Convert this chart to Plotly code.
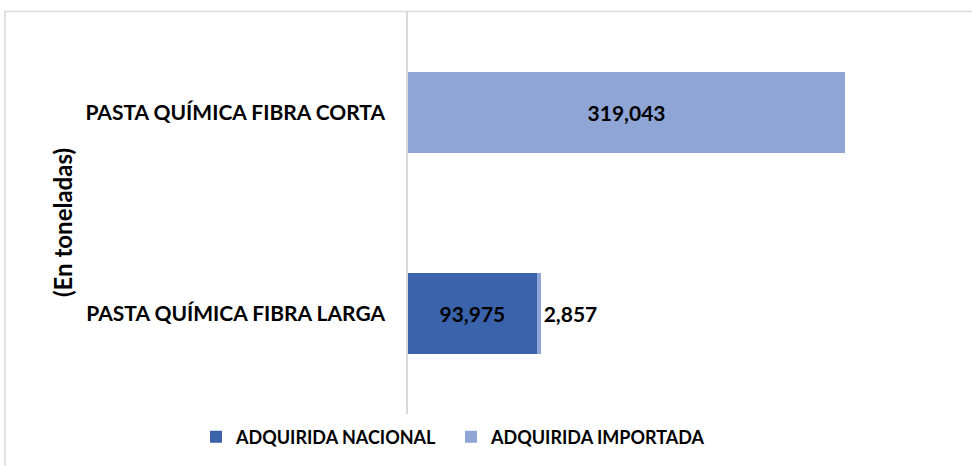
import plotly.graph_objects as go

categories = ["PASTA QUÍMICA FIBRA LARGA", "PASTA QUÍMICA FIBRA CORTA"]
nacional = [93975, 0]
importada = [2857, 319043]
series_names = ["ADQUIRIDA NACIONAL", "ADQUIRIDA IMPORTADA"]
axis_title = "(En toneladas)"

FONT = "Lato, 'Open Sans', sans-serif"
BOLD = dict(color="black", family=FONT, weight="bold")

def labels(vals):
    return [f"{v:,}" if v else "" for v in vals]

fig = go.Figure()
fig.add_trace(go.Bar(
    y=categories, x=nacional, orientation="h", name=series_names[0],
    marker=dict(color="#3B63AC", line=dict(width=0)),
    text=labels(nacional), textposition="inside", insidetextanchor="middle",
    textangle=0, textfont=dict(size=21, **BOLD),
    width=0.4,
))
fig.add_trace(go.Bar(
    y=categories, x=importada, orientation="h", name=series_names[1],
    marker=dict(color="#8FA5D6", line=dict(width=0)),
    text=labels(importada), textposition=["outside", "inside"], insidetextanchor="middle",
    textangle=0, textfont=dict(size=21, **BOLD),
    width=0.4, cliponaxis=False,
))

PW = 548.0
PH = 402.0

fig.update_layout(
    barmode="stack",
    width=972, height=466,
    margin=dict(l=408, r=16, t=12, b=52, autoexpand=False),
    paper_bgcolor="white", plot_bgcolor="white",
    font=dict(family=FONT, size=18, color="black"),
    showlegend=True,
    legend=dict(orientation="h", x=(196 - 408) / PW, xanchor="left",
                y=-(437 - 414) / PH, yanchor="middle",
                font=dict(size=18, **BOLD),
                itemwidth=30, traceorder="normal",
                entrywidth=210, entrywidthmode="pixels"),
    xaxis=dict(range=[0, 400000], showgrid=False, zeroline=False, showticklabels=False,
               showline=False, fixedrange=True, automargin=False),
    yaxis=dict(showline=True, linecolor="#D9D9D9", linewidth=1.5, showgrid=False,
               ticks="", ticklabelstandoff=17, automargin=False,
               tickfont=dict(size=21, **BOLD)),
    annotations=[dict(text=axis_title, xref="paper", yref="paper", x=(62 - 408) / PW,
                      y=(414 - 223) / PH, textangle=-90, showarrow=False,
                      xanchor="center", yanchor="middle",
                      font=dict(size=24, **BOLD))],
    shapes=[dict(type="rect", xref="paper", yref="paper",
                 x0=(5 - 408) / PW, x1=1.2, y0=-0.3, y1=(414.5 - 12) / PH,
                 line=dict(color="#D9D9D9", width=1.5), fillcolor="rgba(0,0,0,0)", layer="below")],
)

fig.write_html("out.html", config={"displayModeBar": False},
               post_script="document.body.style.margin='0';")
